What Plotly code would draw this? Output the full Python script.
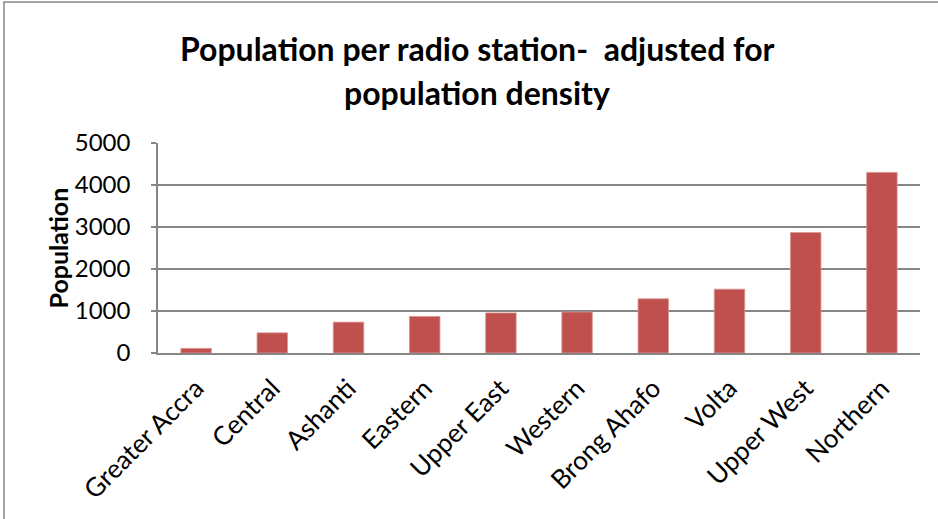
import plotly.graph_objects as go

regions = ["Greater Accra", "Central", "Ashanti", "Eastern", "Upper East",
           "Western", "Brong Ahafo", "Volta", "Upper West", "Northern"]
population = [110, 480, 735, 870, 955, 975, 1290, 1520, 2870, 4300]
y_ticks = [0, 1000, 2000, 3000, 4000, 5000]

title_line1 = "Population per radio station-  adjusted for"
title_line2 = "population density"
y_title = "Population"

FONT = "Lato"
W, H = 938, 519
L, R, T, B = 158, 18, 143, 166
pw, ph = W - L - R, H - T - B

def px_x(x):
    return (x - L) / pw

def px_y(y):
    return (H - B - y) / ph

fig = go.Figure(go.Bar(
    x=regions, y=population,
    marker=dict(color="#C0504D", line=dict(color="#D99694", width=0.8)),
    width=0.4,
))

fig.update_layout(
    width=W, height=H,
    margin=dict(l=L, r=R, t=T, b=B, autoexpand=False),
    paper_bgcolor="white", plot_bgcolor="white",
    showlegend=False,
    bargap=0.6,
    font=dict(family=FONT, color="black"),
)

fig.update_xaxes(
    type="category",
    tickangle=-45,
    tickfont=dict(family=FONT, size=26, color="black"),
    showline=True, linecolor="#868686", linewidth=1.5,
    ticks="outside", ticklen=8, tickcolor="rgba(0,0,0,0)",
    showgrid=False,
    range=[-0.5, 9.5],
)

fig.update_yaxes(
    range=[0, 5000],
    tickvals=y_ticks,
    ticktext=[str(v) for v in y_ticks],
    tickfont=dict(family=FONT, size=24, color="black"),
    showline=True, linecolor="#868686", linewidth=1.5,
    ticks="outside", ticklen=5, tickcolor="#868686", tickwidth=1.5,
    showgrid=True, gridcolor="#868686", gridwidth=1.5,
    zeroline=False,
    ticklabelstandoff=16,
)

fig.add_annotation(text=title_line1, xref="paper", yref="paper",
                   x=px_x(477), y=px_y(48), showarrow=False,
                   xanchor="center", yanchor="middle",
                   font=dict(family=FONT, size=32, color="black", weight="bold"))
fig.add_annotation(text=title_line2, xref="paper", yref="paper",
                   x=px_x(477), y=px_y(92), showarrow=False,
                   xanchor="center", yanchor="middle",
                   font=dict(family=FONT, size=32, color="black", weight="bold"))
fig.add_annotation(text=y_title, xref="paper", yref="paper",
                   x=px_x(57), y=px_y(248.5), showarrow=False, textangle=-90,
                   xanchor="center", yanchor="middle",
                   font=dict(family=FONT, size=25, color="black", weight="bold"))

# outer chart frame (left and top edges visible in the reference)
fig.add_shape(type="path", xref="paper", yref="paper",
              path=f"M {px_x(4)} {px_y(H + 5)} L {px_x(4)} {px_y(2)} L {px_x(W + 5)} {px_y(2)}",
              line=dict(color="#888888", width=1.5))

fig.write_html("out.html", config={"displayModeBar": False},
               post_script="document.body.style.margin='0';")
